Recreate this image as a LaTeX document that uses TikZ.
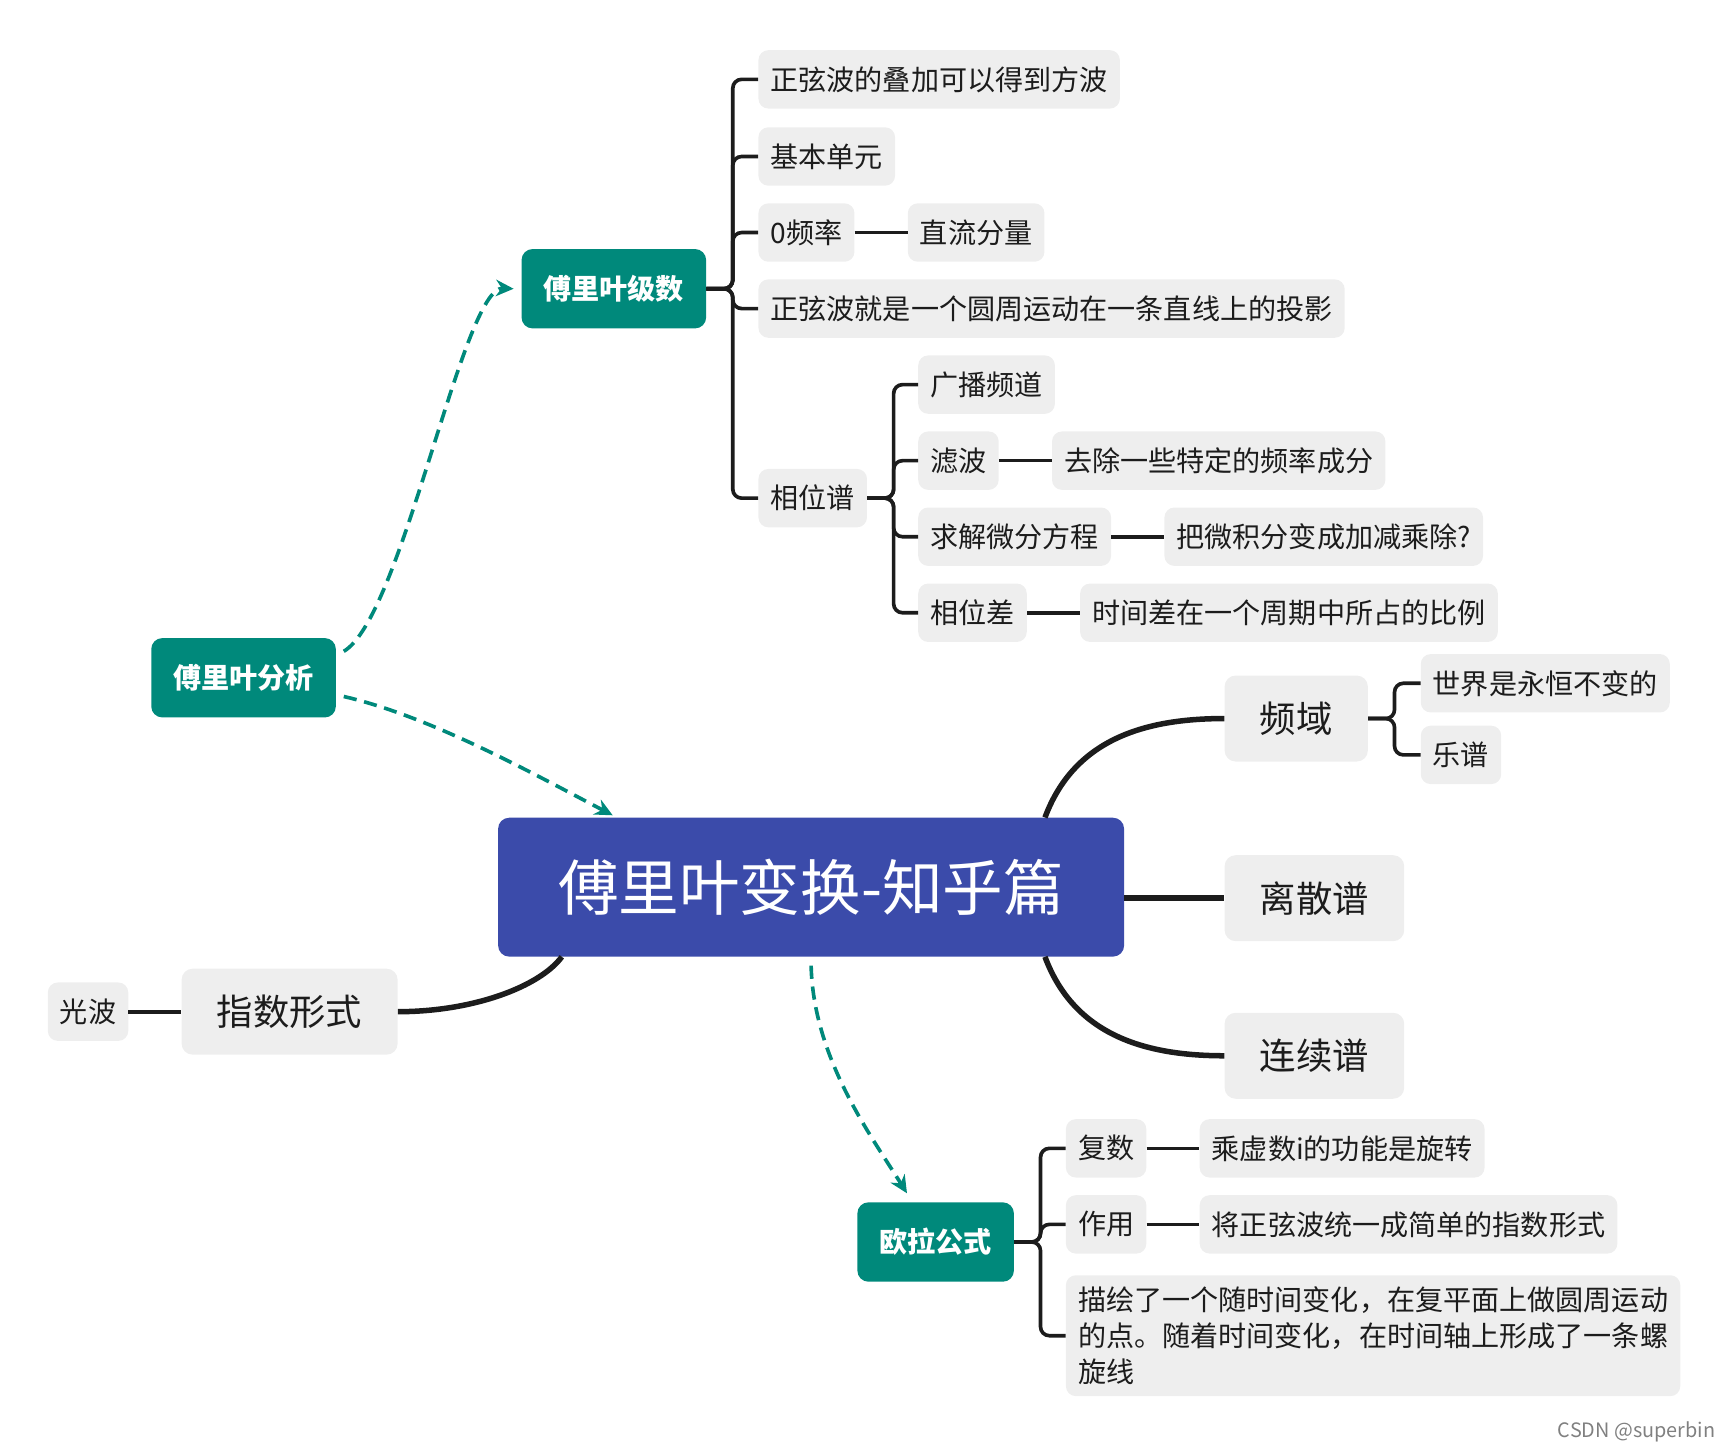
\documentclass[tikz,border=0pt]{standalone}
\usepackage{fontspec}
\newfontfamily\cjk{Noto Sans CJK SC}
\usetikzlibrary{positioning,arrows.meta}
\definecolor{rootblue}{RGB}{59,75,170}
\definecolor{mainteal}{RGB}{0,137,123}
\definecolor{boxgray}{RGB}{238,238,238}
\definecolor{ink}{RGB}{28,28,28}

\begin{document}
\begin{tikzpicture}[x=1pt,y=-1pt,node distance=48pt,
central/.style={
rectangle,
rounded corners=10pt,
fill=rootblue,
text=white,
font=\cjk\fontsize{55}{60}\selectfont,
minimum width=568pt,
minimum height=126pt
},
mainbox/.style={
rectangle,
rounded corners=10pt,
fill=mainteal,
text=white,
font=\cjk\bfseries\fontsize{25.5}{30}\selectfont,
minimum height=72pt,
inner xsep=20pt,
inner ysep=0pt
},
bigbox/.style={
rectangle,
rounded corners=10pt,
fill=boxgray,
text=ink,
font=\cjk\fontsize{33}{40}\selectfont,
minimum height=78pt,
inner xsep=32pt,
inner ysep=0pt
},
leaf/.style={
rectangle,
rounded corners=9pt,
fill=boxgray,
text=ink,
font=\cjk\fontsize{25.5}{33}\selectfont,
minimum height=53pt,
inner xsep=11pt,
inner ysep=0pt
},
bracket/.style={draw=ink,line width=3.3pt,rounded corners=8pt},
branch/.style={draw=ink,line width=5pt},
link/.style={draw=mainteal,line width=3.3pt,dash pattern=on 12pt off 7pt,-{Stealth[length=16pt,width=15pt]}},
]
\useasboundingbox (0,0) rectangle (1568,1318);

% centre
\node (root) [central] at (736,805) {傅里叶变换-知乎篇};

% teal topics
\node (analysis) [mainbox] at (221,615) {傅里叶分析};
\node (series) [mainbox] at (557,262) {傅里叶级数};
\node (euler) [mainbox] at (849,1127) {欧拉公式};

% series
\node (square) [leaf,anchor=west] at (688,72) {正弦波的叠加可以得到方波};
\node (unit) [leaf,anchor=west] at (688,142) {基本单元};
\node (zero) [leaf,anchor=west] at (688,211) {0频率};
\node (dc) [leaf,right=of zero] {直流分量};
\node (proj) [leaf,anchor=west] at (688,280) {正弦波就是一个圆周运动在一条直线上的投影};
\node (phase) [leaf,anchor=west] at (688,452) {相位谱};

% phase spectrum
\node (radio) [leaf,anchor=west] at (833,349) {广播频道};
\node (filter) [leaf,anchor=west] at (833,418) {滤波};
\node (remove) [leaf,right=of filter] {去除一些特定的频率成分};
\node (ode) [leaf,anchor=west] at (833,487) {求解微分方程};
\node (calc) [leaf,right=of ode] {把微积分变成加减乘除?};
\node (pdiff) [leaf,anchor=west] at (833,556) {相位差};
\node (ratio) [leaf,right=of pdiff] {时间差在一个周期中所占的比例};

% right side
\node (freq) [bigbox,anchor=west] at (1111,652) {频域};
\node (world) [leaf,anchor=west] at (1289,620) {世界是永恒不变的};
\node (score) [leaf,anchor=west] at (1289,685) {乐谱};
\node (discrete) [bigbox,anchor=west] at (1111,815) {离散谱};
\node (cont) [bigbox,anchor=west] at (1111,958) {连续谱};

% left side
\node (expo) [bigbox,anchor=east] at (361,918) {指数形式};
\node (light) [leaf,left=of expo] {光波};

% euler
\node (cplx) [leaf,anchor=west] at (967,1042) {复数};
\node (rot) [leaf,right=of cplx] {乘虚数i的功能是旋转};
\node (use) [leaf,anchor=west] at (967,1111) {作用};
\node (unify) [leaf,right=of use] {将正弦波统一成简单的指数形式};
\node (spiral) [leaf,anchor=west,align=left,inner ysep=10pt] at (967,1212) {描绘了一个随时间变化，在复平面上做圆周运动\\的点。随着时间变化，在时间轴上形成了一条螺\\旋线};

\node (csdn) [text=gray,font=\cjk\fontsize{18}{20}\selectfont] at (1485,1299) {CSDN @superbin};

% brackets
\foreach \c in {square,unit,zero,proj,phase}
  \draw[bracket] (series.east) -- ++(24,0) |- (\c.west);
\foreach \c in {radio,filter,ode,pdiff}
  \draw[bracket] (phase.east) -- ++(24,0) |- (\c.west);
\foreach \c in {world,score}
  \draw[bracket] (freq.east) -- ++(24,0) |- (\c.west);
\foreach \c in {cplx,use,spiral}
  \draw[bracket] (euler.east) -- ++(24,0) |- (\c.west);
\draw[bracket] (zero) -- (dc);
\draw[bracket] (filter) -- (remove);
\draw[bracket] (ode) -- (calc);
\draw[bracket] (pdiff) -- (ratio);
\draw[bracket] (cplx) -- (rot);
\draw[bracket] (use) -- (unify);
\draw[bracket] (light) -- (expo);

% main branches
\draw[branch] ([xshift=-72pt]root.north east) .. controls (975,670) and (1040,652) .. (freq.west);
\draw[branch] (root.east |- discrete) -- (discrete.west);
\draw[branch] ([xshift=-72pt]root.south east) .. controls (975,940) and (1040,958) .. (cont.west);
\draw[branch] ([xshift=58pt]root.south west) .. controls (490,895) and (430,918) .. (expo.east);

% dashed links
\draw[link] ([xshift=7pt,yshift=24pt]analysis.east) .. controls (365,560) and (420,260) .. ([xshift=-7pt]series.west);
\draw[link] ([xshift=7pt,yshift=-17pt]analysis.east) .. controls (390,650) and (480,700) .. ([xshift=-180pt,yshift=2pt]root.north);
\draw[link] ([yshift=-8pt]root.south) .. controls (738,960) and (790,1030) .. ([xshift=-26pt,yshift=8pt]euler.north);
\end{tikzpicture}
\end{document}
